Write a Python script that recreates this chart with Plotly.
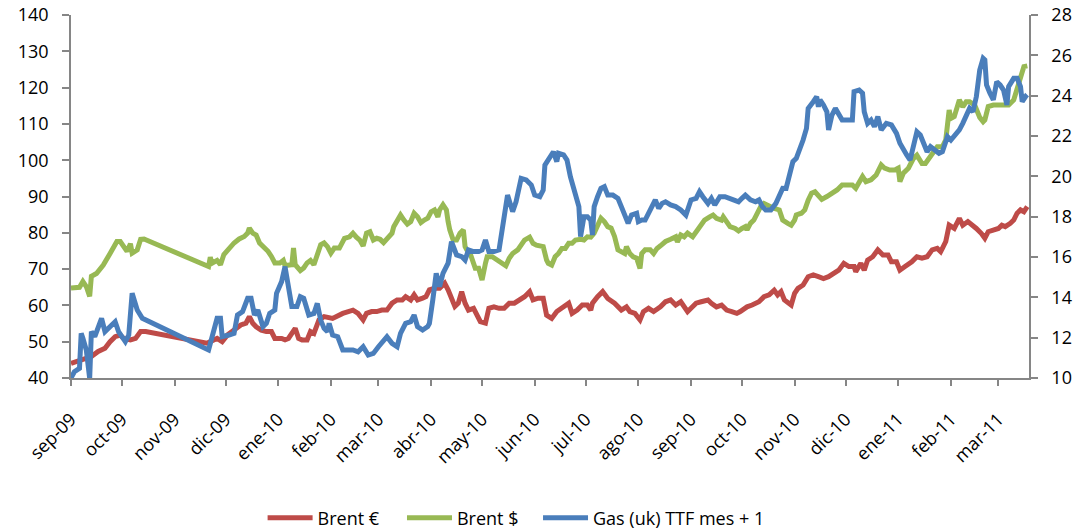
import plotly.graph_objects as go

# etiquetas del eje X (inicio de cada mes)
meses = ["2009-09-01", "2009-10-01", "2009-11-01", "2009-12-01", "2010-01-01", "2010-02-01",
         "2010-03-01", "2010-04-01", "2010-05-01", "2010-06-01", "2010-07-01", "2010-08-01",
         "2010-09-01", "2010-10-01", "2010-11-01", "2010-12-01", "2011-01-01", "2011-02-01",
         "2011-03-01"]
etiquetas_mes = ["sep-09", "oct-09", "nov-09", "dic-09", "ene-10", "feb-10", "mar-10", "abr-10",
                 "may-10", "jun-10", "jul-10", "ago-10", "sep-10", "oct-10", "nov-10", "dic-10",
                 "ene-11", "feb-11", "mar-11"]

# Brent en euros (eje izquierdo)
fechas_eur = ["2009-09-01", "2009-09-07", "2009-09-13", "2009-09-17", "2009-09-21", "2009-09-24",
              "2009-09-27", "2009-09-30", "2009-10-02", "2009-10-06", "2009-10-09", "2009-10-12",
              "2009-10-15", "2009-11-20", "2009-11-22", "2009-11-26", "2009-11-29", "2009-12-02",
              "2009-12-06", "2009-12-10", "2009-12-13", "2009-12-15", "2009-12-17", "2009-12-19",
              "2009-12-22", "2009-12-25", "2009-12-28", "2009-12-30", "2010-01-03", "2010-01-05",
              "2010-01-07", "2010-01-11", "2010-01-13", "2010-01-15", "2010-01-18", "2010-01-20",
              "2010-01-22", "2010-01-25", "2010-01-28", "2010-02-02", "2010-02-08", "2010-02-11",
              "2010-02-14", "2010-02-17", "2010-02-20", "2010-02-22", "2010-02-25", "2010-02-28",
              "2010-03-03", "2010-03-06", "2010-03-09", "2010-03-12", "2010-03-15", "2010-03-17",
              "2010-03-20", "2010-03-22", "2010-03-24", "2010-03-27", "2010-03-29", "2010-03-31",
              "2010-04-03", "2010-04-06", "2010-04-09", "2010-04-11", "2010-04-13", "2010-04-15",
              "2010-04-17", "2010-04-19", "2010-04-21", "2010-04-23", "2010-04-26", "2010-04-28",
              "2010-04-30", "2010-05-03", "2010-05-05", "2010-05-08", "2010-05-11", "2010-05-14",
              "2010-05-17", "2010-05-20", "2010-05-23", "2010-05-26", "2010-05-29", "2010-05-31",
              "2010-06-03", "2010-06-06", "2010-06-08", "2010-06-11", "2010-06-14", "2010-06-17",
              "2010-06-21", "2010-06-23", "2010-06-26", "2010-06-29", "2010-07-02", "2010-07-04",
              "2010-07-05", "2010-07-08", "2010-07-11", "2010-07-14", "2010-07-18", "2010-07-22",
              "2010-07-25", "2010-07-27", "2010-07-30", "2010-08-02", "2010-08-04", "2010-08-07",
              "2010-08-10", "2010-08-14", "2010-08-17", "2010-08-20", "2010-08-23", "2010-08-26",
              "2010-08-28", "2010-08-30", "2010-09-01", "2010-09-04", "2010-09-07", "2010-09-11",
              "2010-09-13", "2010-09-16", "2010-09-19", "2010-09-22", "2010-09-25", "2010-09-28",
              "2010-09-30", "2010-10-04", "2010-10-07", "2010-10-11", "2010-10-14", "2010-10-17",
              "2010-10-20", "2010-10-22", "2010-10-24", "2010-10-26", "2010-10-30", "2010-11-01",
              "2010-11-03", "2010-11-06", "2010-11-09", "2010-11-12", "2010-11-15", "2010-11-18",
              "2010-11-21", "2010-11-24", "2010-11-27", "2010-11-30", "2010-12-03", "2010-12-06",
              "2010-12-07", "2010-12-10", "2010-12-12", "2010-12-14", "2010-12-17", "2010-12-20",
              "2010-12-23", "2010-12-26", "2010-12-28", "2010-12-31", "2011-01-02", "2011-01-05",
              "2011-01-09", "2011-01-12", "2011-01-15", "2011-01-18", "2011-01-21", "2011-01-24",
              "2011-01-26", "2011-01-27", "2011-01-29", "2011-01-31", "2011-02-03", "2011-02-06",
              "2011-02-08", "2011-02-11", "2011-02-14", "2011-02-16", "2011-02-19", "2011-02-21",
              "2011-02-23", "2011-02-26", "2011-03-01", "2011-03-03", "2011-03-05", "2011-03-08",
              "2011-03-10", "2011-03-12", "2011-03-14", "2011-03-16", "2011-03-18"]
brent_eur = [44.0, 45.0, 45.9, 47.3, 48.2, 50.0, 51.4, 51.8, 50.9, 50.5, 50.9, 52.8,
             52.8, 49.6, 50.0, 50.9, 50.0, 51.8, 53.2, 54.6, 55.1, 56.9, 55.1, 54.1,
             53.2, 52.8, 52.8, 50.9, 50.9, 50.5, 50.9, 53.7, 50.9, 50.5, 50.5, 52.8,
             52.3, 56.0, 56.9, 56.4, 57.8, 58.3, 58.7, 57.8, 56.0, 57.8, 58.3, 58.3,
             58.7, 58.7, 60.6, 61.5, 61.5, 62.4, 61.5, 62.9, 61.5, 62.0, 62.4, 64.3,
             64.7, 64.7, 66.1, 64.3, 61.5, 59.7, 60.6, 63.8, 60.6, 58.7, 59.2, 56.9,
             55.5, 55.1, 59.2, 59.6, 59.2, 59.2, 60.6, 60.6, 61.5, 62.4, 63.8, 61.5,
             62.0, 62.0, 57.3, 56.4, 58.3, 59.2, 60.6, 57.8, 58.7, 60.1, 60.1, 58.7,
             60.6, 62.4, 63.8, 61.9, 60.6, 58.7, 59.6, 58.3, 57.8, 56.0, 58.3, 59.2,
             58.3, 59.6, 61.0, 61.5, 60.1, 61.0, 59.6, 58.3, 59.2, 60.6, 61.0, 61.5,
             60.6, 59.6, 60.1, 58.7, 58.3, 57.8, 58.3, 59.6, 60.1, 61.0, 62.4, 62.9,
             64.2, 62.9, 63.8, 61.5, 60.1, 63.3, 64.7, 65.6, 67.9, 68.4, 67.9, 67.4,
             67.9, 68.8, 69.7, 71.6, 70.7, 70.7, 69.3, 71.6, 69.7, 72.5, 73.4, 75.3,
             73.9, 73.9, 72.0, 72.0, 69.7, 70.7, 72.0, 73.4, 73.0, 73.4, 75.3, 75.7,
             74.8, 75.7, 77.6, 82.1, 81.2, 84.0, 82.1, 83.1, 82.1, 81.2, 79.8, 78.5,
             80.3, 80.8, 81.2, 82.1, 81.7, 82.6, 83.5, 85.4, 86.3, 85.8, 87.2]

# Brent en dolares (eje izquierdo)
fechas_usd = ["2009-09-01", "2009-09-06", "2009-09-08", "2009-09-10", "2009-09-12", "2009-09-13",
              "2009-09-16", "2009-09-20", "2009-09-24", "2009-09-28", "2009-09-30", "2009-10-02",
              "2009-10-04", "2009-10-06", "2009-10-07", "2009-10-10", "2009-10-12", "2009-10-14",
              "2009-11-21", "2009-11-22", "2009-11-23", "2009-11-26", "2009-11-28", "2009-11-30",
              "2009-12-03", "2009-12-06", "2009-12-09", "2009-12-12", "2009-12-14", "2009-12-15",
              "2009-12-17", "2009-12-19", "2009-12-21", "2009-12-24", "2009-12-26", "2009-12-28",
              "2009-12-30", "2010-01-02", "2010-01-04", "2010-01-05", "2010-01-07", "2010-01-09",
              "2010-01-10", "2010-01-11", "2010-01-14", "2010-01-16", "2010-01-18", "2010-01-20",
              "2010-01-22", "2010-01-24", "2010-01-26", "2010-01-28", "2010-01-30", "2010-02-01",
              "2010-02-03", "2010-02-06", "2010-02-09", "2010-02-12", "2010-02-14", "2010-02-16",
              "2010-02-18", "2010-02-20", "2010-02-22", "2010-02-24", "2010-02-26", "2010-02-28",
              "2010-03-02", "2010-03-04", "2010-03-07", "2010-03-09", "2010-03-10", "2010-03-12",
              "2010-03-14", "2010-03-16", "2010-03-18", "2010-03-20", "2010-03-22", "2010-03-24",
              "2010-03-26", "2010-03-28", "2010-03-30", "2010-04-01", "2010-04-03", "2010-04-05",
              "2010-04-06", "2010-04-08", "2010-04-10", "2010-04-11", "2010-04-12", "2010-04-14",
              "2010-04-16", "2010-04-18", "2010-04-20", "2010-04-21", "2010-04-22", "2010-04-24",
              "2010-04-25", "2010-04-27", "2010-04-29", "2010-05-01", "2010-05-03", "2010-05-04",
              "2010-05-07", "2010-05-10", "2010-05-13", "2010-05-15", "2010-05-17", "2010-05-19",
              "2010-05-22", "2010-05-24", "2010-05-26", "2010-05-29", "2010-05-31", "2010-06-02",
              "2010-06-04", "2010-06-06", "2010-06-08", "2010-06-09", "2010-06-11", "2010-06-13",
              "2010-06-15", "2010-06-17", "2010-06-19", "2010-06-21", "2010-06-23", "2010-06-25",
              "2010-06-28", "2010-06-30", "2010-07-02", "2010-07-04", "2010-07-06", "2010-07-08",
              "2010-07-10", "2010-07-12", "2010-07-14", "2010-07-16", "2010-07-18", "2010-07-20",
              "2010-07-22", "2010-07-24", "2010-07-25", "2010-07-27", "2010-07-29", "2010-07-31",
              "2010-08-02", "2010-08-03", "2010-08-05", "2010-08-08", "2010-08-10", "2010-08-12",
              "2010-08-14", "2010-08-17", "2010-08-20", "2010-08-23", "2010-08-24", "2010-08-26",
              "2010-08-28", "2010-08-30", "2010-09-02", "2010-09-05", "2010-09-07", "2010-09-09",
              "2010-09-12", "2010-09-14", "2010-09-16", "2010-09-19", "2010-09-20", "2010-09-22",
              "2010-09-24", "2010-09-27", "2010-09-29", "2010-10-01", "2010-10-03", "2010-10-04",
              "2010-10-06", "2010-10-08", "2010-10-10", "2010-10-12", "2010-10-14", "2010-10-17",
              "2010-10-20", "2010-10-23", "2010-10-25", "2010-10-28", "2010-10-30", "2010-11-01",
              "2010-11-02", "2010-11-05", "2010-11-07", "2010-11-09", "2010-11-11", "2010-11-13",
              "2010-11-15", "2010-11-17", "2010-11-20", "2010-11-23", "2010-11-26", "2010-11-29",
              "2010-12-02", "2010-12-05", "2010-12-07", "2010-12-09", "2010-12-11", "2010-12-13",
              "2010-12-16", "2010-12-19", "2010-12-22", "2010-12-24", "2010-12-27", "2010-12-30",
              "2011-01-01", "2011-01-02", "2011-01-04", "2011-01-07", "2011-01-10", "2011-01-12",
              "2011-01-15", "2011-01-17", "2011-01-19", "2011-01-21", "2011-01-24", "2011-01-27",
              "2011-01-29", "2011-01-31", "2011-02-01", "2011-02-03", "2011-02-06", "2011-02-08",
              "2011-02-10", "2011-02-12", "2011-02-15", "2011-02-18", "2011-02-20", "2011-02-21",
              "2011-02-23", "2011-02-26", "2011-03-02", "2011-03-07", "2011-03-10", "2011-03-12",
              "2011-03-14", "2011-03-16", "2011-03-18"]
brent_usd = [64.8, 65.0, 66.6, 65.2, 62.5, 68.0, 68.8, 71.1, 74.3, 77.6, 77.6, 76.2,
             74.9, 77.0, 74.4, 75.3, 78.2, 78.3, 70.7, 73.3, 71.6, 72.4, 71.2, 74.0,
             75.8, 77.2, 78.3, 79.0, 79.9, 81.3, 79.9, 79.4, 77.2, 76.0, 74.9, 73.5,
             71.7, 71.7, 72.4, 71.0, 71.2, 71.2, 75.8, 71.2, 69.6, 70.3, 71.7, 72.4,
             71.2, 74.0, 76.7, 77.2, 76.2, 74.4, 75.8, 75.8, 78.5, 78.9, 79.9, 78.8,
             78.0, 76.4, 79.9, 80.3, 78.0, 78.5, 78.2, 77.3, 78.8, 79.9, 81.7, 83.5,
             84.9, 83.5, 82.4, 83.1, 85.4, 84.4, 82.8, 83.5, 84.0, 85.8, 86.3, 84.4,
             86.3, 87.7, 86.3, 83.1, 80.8, 78.0, 78.0, 79.9, 80.8, 76.2, 75.3, 74.3,
             72.5, 70.2, 70.2, 67.0, 71.6, 73.4, 73.4, 72.5, 71.6, 70.9, 73.0, 74.3,
             75.3, 76.6, 78.0, 78.8, 77.1, 76.6, 76.5, 76.2, 72.5, 71.6, 71.1, 73.4,
             74.3, 75.7, 75.7, 77.1, 77.1, 78.0, 78.2, 78.0, 78.9, 78.8, 79.9, 81.7,
             84.0, 83.1, 81.7, 81.3, 79.0, 75.3, 74.9, 74.3, 76.2, 74.3, 73.4, 73.0,
             70.2, 74.3, 75.3, 75.3, 74.3, 75.7, 76.4, 77.6, 78.2, 78.9, 77.5, 79.4,
             78.9, 79.9, 78.9, 80.8, 82.6, 83.5, 84.4, 84.9, 84.0, 83.5, 84.4, 83.1,
             81.7, 81.2, 80.5, 81.2, 81.7, 80.8, 82.6, 83.5, 85.4, 87.2, 88.1, 87.2,
             86.7, 86.3, 83.5, 82.6, 82.1, 83.5, 84.9, 85.4, 86.3, 89.0, 90.9, 91.3,
             90.0, 89.2, 90.0, 90.9, 91.8, 93.2, 93.2, 93.2, 92.3, 94.1, 95.5, 94.1,
             94.6, 95.9, 98.7, 97.8, 97.3, 97.3, 97.8, 94.1, 96.4, 97.8, 100.5, 101.4,
             99.1, 99.1, 100.5, 101.4, 103.7, 103.7, 105.6, 113.8, 111.5, 112.0, 116.6, 114.7,
             116.1, 116.1, 115.2, 111.8, 110.6, 111.1, 114.8, 115.2, 115.2, 115.2, 116.6, 119.8,
             122.3, 125.8, 126.0]

# Gas (uk) TTF mes + 1 (eje derecho)
fechas_gas = ["2009-09-01", "2009-09-03", "2009-09-06", "2009-09-07", "2009-09-08", "2009-09-10",
              "2009-09-12", "2009-09-13", "2009-09-15", "2009-09-17", "2009-09-19", "2009-09-21",
              "2009-09-24", "2009-09-27", "2009-09-29", "2009-10-02", "2009-10-03", "2009-10-05",
              "2009-10-07", "2009-10-10", "2009-10-13", "2009-11-21", "2009-11-23", "2009-11-26",
              "2009-11-28", "2009-11-29", "2009-12-03", "2009-12-06", "2009-12-08", "2009-12-11",
              "2009-12-14", "2009-12-16", "2009-12-18", "2009-12-20", "2009-12-23", "2009-12-25",
              "2009-12-27", "2009-12-30", "2009-12-31", "2010-01-03", "2010-01-05", "2010-01-07",
              "2010-01-09", "2010-01-12", "2010-01-14", "2010-01-16", "2010-01-18", "2010-01-19",
              "2010-01-22", "2010-01-24", "2010-01-26", "2010-01-28", "2010-01-30", "2010-01-31",
              "2010-02-02", "2010-02-05", "2010-02-08", "2010-02-11", "2010-02-14", "2010-02-17",
              "2010-02-20", "2010-02-23", "2010-02-26", "2010-03-01", "2010-03-04", "2010-03-06",
              "2010-03-09", "2010-03-12", "2010-03-14", "2010-03-17", "2010-03-20", "2010-03-22",
              "2010-03-24", "2010-03-27", "2010-03-30", "2010-03-31", "2010-04-02", "2010-04-04",
              "2010-04-06", "2010-04-08", "2010-04-11", "2010-04-13", "2010-04-16", "2010-04-19",
              "2010-04-21", "2010-04-23", "2010-04-26", "2010-04-29", "2010-05-01", "2010-05-03",
              "2010-05-05", "2010-05-08", "2010-05-11", "2010-05-13", "2010-05-16", "2010-05-19",
              "2010-05-21", "2010-05-24", "2010-05-27", "2010-05-30", "2010-06-01", "2010-06-04",
              "2010-06-06", "2010-06-07", "2010-06-10", "2010-06-12", "2010-06-14", "2010-06-15",
              "2010-06-18", "2010-06-20", "2010-06-22", "2010-06-24", "2010-06-26", "2010-06-27",
              "2010-06-28", "2010-06-30", "2010-07-02", "2010-07-04", "2010-07-05", "2010-07-06",
              "2010-07-08", "2010-07-10", "2010-07-12", "2010-07-14", "2010-07-17", "2010-07-20",
              "2010-07-22", "2010-07-24", "2010-07-26", "2010-07-28", "2010-07-31", "2010-08-01",
              "2010-08-03", "2010-08-05", "2010-08-07", "2010-08-09", "2010-08-11", "2010-08-13",
              "2010-08-15", "2010-08-17", "2010-08-20", "2010-08-23", "2010-08-26", "2010-08-29",
              "2010-08-31", "2010-09-01", "2010-09-04", "2010-09-06", "2010-09-08", "2010-09-11",
              "2010-09-13", "2010-09-15", "2010-09-18", "2010-09-21", "2010-09-26", "2010-09-29",
              "2010-10-01", "2010-10-03", "2010-10-06", "2010-10-09", "2010-10-11", "2010-10-13",
              "2010-10-15", "2010-10-18", "2010-10-21", "2010-10-23", "2010-10-25", "2010-10-27",
              "2010-10-29", "2010-10-30", "2010-10-31", "2010-11-02", "2010-11-04", "2010-11-06",
              "2010-11-08", "2010-11-09", "2010-11-12", "2010-11-14", "2010-11-15", "2010-11-16",
              "2010-11-18", "2010-11-20", "2010-11-21", "2010-11-23", "2010-11-25", "2010-11-27",
              "2010-11-29", "2010-12-02", "2010-12-05", "2010-12-06", "2010-12-09", "2010-12-11",
              "2010-12-12", "2010-12-14", "2010-12-16", "2010-12-18", "2010-12-20", "2010-12-22",
              "2010-12-25", "2010-12-28", "2010-12-31", "2011-01-02", "2011-01-04", "2011-01-06",
              "2011-01-08", "2011-01-10", "2011-01-12", "2011-01-14", "2011-01-16", "2011-01-18",
              "2011-01-20", "2011-01-22", "2011-01-25", "2011-01-27", "2011-01-29", "2011-01-30",
              "2011-02-01", "2011-02-04", "2011-02-06", "2011-02-08", "2011-02-10", "2011-02-12",
              "2011-02-14", "2011-02-16", "2011-02-18", "2011-02-20", "2011-02-21", "2011-02-22",
              "2011-02-24", "2011-02-26", "2011-02-28", "2011-03-02", "2011-03-04", "2011-03-06",
              "2011-03-07", "2011-03-10", "2011-03-12", "2011-03-14", "2011-03-15", "2011-03-17",
              "2011-03-18"]
gas_ttf = [10.0, 10.31, 10.48, 12.21, 11.97, 11.39, 9.98, 12.3, 12.05, 12.55, 12.96, 12.3,
           12.55, 12.79, 12.3, 11.97, 11.8, 12.13, 14.2, 13.37, 12.96, 11.39, 11.97, 12.96,
           12.96, 12.05, 12.13, 12.21, 13.12, 13.29, 13.95, 13.95, 13.12, 13.37, 12.55, 12.71,
           13.21, 13.37, 14.2, 14.78, 15.52, 14.36, 13.54, 13.54, 14.03, 13.95, 13.3, 13.12,
           13.2, 13.7, 12.87, 12.46, 12.3, 12.71, 12.13, 12.05, 11.39, 11.39, 11.39, 11.3,
           11.55, 11.14, 11.22, 11.55, 11.8, 12.05, 11.72, 11.55, 12.21, 12.71, 12.79, 13.12,
           12.55, 12.38, 12.55, 12.71, 13.87, 15.19, 14.53, 15.19, 15.69, 16.76, 16.1, 16.02,
           15.85, 16.35, 16.27, 16.27, 16.35, 16.84, 16.27, 16.27, 16.35, 17.5, 19.07, 18.25,
           18.74, 19.9, 19.82, 19.57, 19.07, 18.99, 19.32, 20.56, 20.98, 21.22, 20.73, 21.14,
           21.06, 20.81, 19.98, 19.41, 18.99, 18.5, 17.01, 18.0, 18.0, 17.83, 17.09, 18.5,
           18.99, 19.41, 19.49, 19.07, 19.07, 18.91, 18.5, 18.08, 17.67, 18.08, 18.17, 17.75,
           17.83, 17.83, 18.17, 18.41, 18.83, 18.41, 18.66, 18.74, 18.58, 18.5, 18.33, 18.08,
           18.66, 18.83, 18.91, 19.24, 18.99, 18.66, 18.91, 18.58, 18.99, 18.99, 18.83, 18.74,
           18.91, 19.07, 18.83, 18.74, 18.83, 18.5, 18.33, 18.33, 18.66, 19.07, 19.41, 19.4,
           20.0, 20.48, 20.73, 20.89, 21.31, 21.8, 22.38, 23.37, 23.7, 23.95, 23.45, 23.79,
           23.54, 23.2, 22.3, 23.04, 23.37, 23.12, 22.79, 22.79, 22.79, 24.2, 24.28, 24.12,
           23.2, 22.63, 22.79, 22.46, 22.96, 22.3, 22.63, 22.55, 22.13, 21.64, 21.31, 21.06,
           20.81, 21.47, 22.21, 22.05, 21.64, 21.22, 21.47, 21.31, 21.14, 21.22, 21.64, 21.97,
           21.8, 22.05, 22.3, 22.63, 23.04, 23.37, 23.2, 23.95, 25.27, 25.85, 25.77, 24.53,
           24.12, 23.79, 24.69, 24.53, 24.28, 23.54, 24.45, 24.86, 24.86, 24.45, 23.7, 23.95,
           23.87]

fuente = dict(family="Open Sans", size=18, color="#000000")
gris = "#868686"

fig = go.Figure()
fig.add_trace(go.Scatter(x=fechas_eur, y=brent_eur, mode="lines", name="Brent €",
                         line=dict(color="#BE4B48", width=5), legend="legend"))
fig.add_trace(go.Scatter(x=fechas_usd, y=brent_usd, mode="lines", name="Brent $",
                         line=dict(color="#98B954", width=5), legend="legend2"))
fig.add_trace(go.Scatter(x=fechas_gas, y=gas_ttf, mode="lines", name="Gas (uk) TTF mes + 1",
                         yaxis="y2", line=dict(color="#4A7EBB", width=5), legend="legend3"))

# una leyenda por serie para separar las entradas como en el original
leyenda = dict(orientation="h", xanchor="left", y=-0.386, yanchor="middle",
               font=fuente, itemwidth=45, bgcolor="rgba(0,0,0,0)")

fig.update_layout(
    width=1079, height=532,
    margin=dict(l=71, r=50, t=15, b=154, autoexpand=False),
    paper_bgcolor="white", plot_bgcolor="white",
    font=fuente,
    showlegend=True,
    legend=dict(leyenda, x=0.2),
    legend2=dict(leyenda, x=0.3455),
    legend3=dict(leyenda, x=0.4875),
    xaxis=dict(type="date", range=["2009-09-01", "2011-03-19"],
               tickvals=meses, ticktext=etiquetas_mes, tickangle=-45,
               ticks="outside", ticklen=6, tickcolor=gris, tickwidth=1.5,
               showline=True, linecolor=gris, linewidth=1.5,
               showgrid=False, zeroline=False, tickfont=fuente,
               ticklabelstandoff=16),
    yaxis=dict(range=[40, 140], dtick=10, ticks="outside", ticklen=7,
               tickcolor=gris, tickwidth=1.5, showline=True, linecolor=gris,
               linewidth=1.5, showgrid=False, zeroline=False, tickfont=fuente,
               ticklabelstandoff=10),
    yaxis2=dict(range=[10, 28], dtick=2, overlaying="y", side="right",
                ticks="outside", ticklen=7, tickcolor=gris, tickwidth=1.5,
                showline=True, linecolor=gris, linewidth=1.5, showgrid=False,
                zeroline=False, tickfont=fuente, ticklabelstandoff=10),
)

# sin margen del body para que la figura ocupe exactamente la ventana
fig.write_html("out.html", config={"displayModeBar": False},
               post_script="document.body.style.margin='0';document.body.style.overflow='hidden';")
